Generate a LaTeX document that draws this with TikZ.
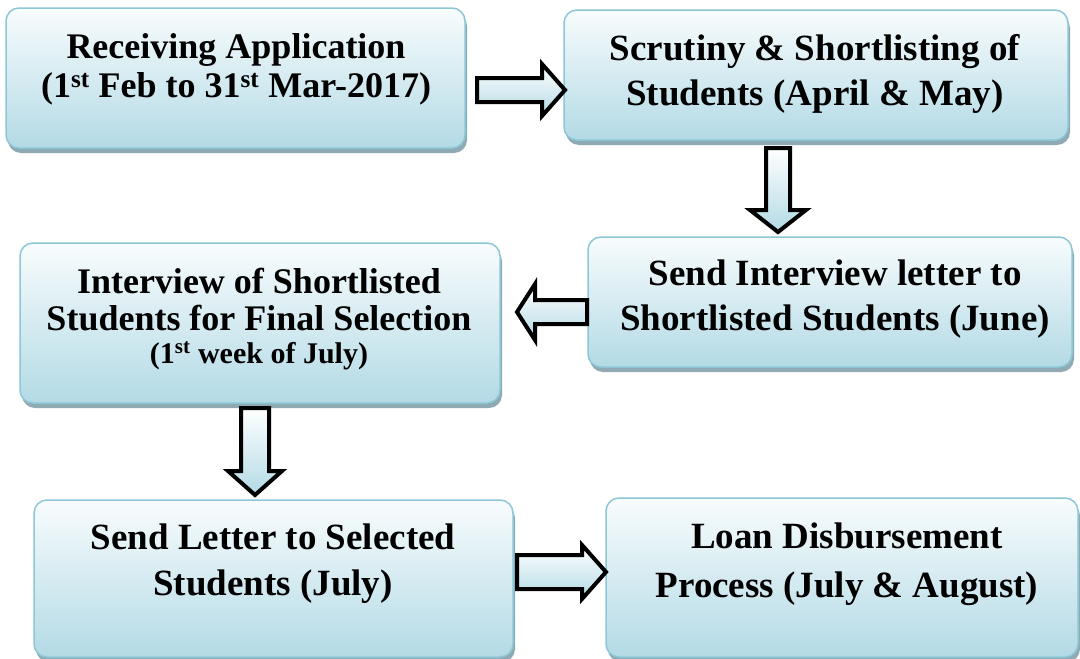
\documentclass[tikz,border=0pt]{standalone}
\usepackage{fontspec}
\setmainfont{Liberation Serif}
\usetikzlibrary{shadows}
\definecolor{boxtop}{HTML}{F8FCFD}
\definecolor{boxbot}{HTML}{B3DAE5}
\definecolor{boxline}{HTML}{8CC7D6}
\definecolor{shadowc}{HTML}{7D9CA8}
\tikzset{
  stage/.style={draw=boxline, line width=1.5pt, rounded corners=13pt,
    top color=boxtop, bottom color=boxbot, inner sep=0pt,
    drop shadow={shadow xshift=2pt, shadow yshift=-5pt, fill=shadowc, opacity=0.85}},
  stagetext/.style={font=\bfseries\fontsize{37}{45}\selectfont, align=center, anchor=base, inner sep=0pt},
  blockarrow/.style={draw=black, line width=4pt, top color=white, bottom color=boxbot, miter limit=10}
}
\begin{document}
\begin{tikzpicture}[x=1pt,y=-1pt]
\useasboundingbox[fill=white] (0,0) rectangle (1080,659);

% boxes
\node[stage, minimum width=459pt, minimum height=140pt] (b1) at (235.5,78) {};
\node[stage, minimum width=504pt, minimum height=130pt] (b2) at (816,75) {};
\node[stage, minimum width=484pt, minimum height=130pt] (b3) at (830,302) {};
\node[stage, minimum width=480pt, minimum height=160pt] (b4) at (260,323) {};
\node[stage, minimum width=479pt, minimum height=157pt] (b5) at (273.5,578.5) {};
\node[stage, minimum width=472pt, minimum height=159pt] (b6) at (842,577.5) {};

% texts (anchor base = baseline of the last line)
\node[stagetext, font=\bfseries\fontsize{36}{39}\selectfont] (t1) at (236,97)
  {Receiving Application\\(1\textsuperscript{st} Feb to 31\textsuperscript{st} Mar-2017)};
\node[stagetext] (t2) at (815,105) {Scrutiny \& Shortlisting of\\Students (April \& May)};
\node[stagetext] (t3) at (835,330) {Send Interview letter to\\Shortlisted Students (June)};
\node[stagetext, font=\bfseries\fontsize{36}{37}\selectfont] (t4) at (259,330)
  {Interview of Shortlisted\\Students for Final Selection};
\node[stagetext, font=\bfseries\fontsize{30}{33}\selectfont] (t4b) at (259,363)
  {(1\textsuperscript{st} week of July)};
\node[stagetext, font=\bfseries\fontsize{37}{46}\selectfont] (t5) at (273,595)
  {Send Letter to Selected\\Students (July)};
\node[stagetext, font=\bfseries\fontsize{37}{49}\selectfont] (t6) at (847,597)
  {Loan Disbursement\\Process (July \& August)};

% block arrows
\draw[blockarrow] (477,78) -- (542,78) -- (542,64) -- (565,90) -- (542,116) -- (542,102) -- (477,102) -- cycle;
\draw[blockarrow] (766,148) -- (790,148) -- (790,210) -- (806,210) -- (778,232) -- (750,210) -- (766,210) -- cycle;
\draw[blockarrow] (587,300) -- (535,300) -- (535,284) -- (517,312) -- (535,340) -- (535,324) -- (587,324) -- cycle;
\draw[blockarrow] (241,408) -- (269,408) -- (269,471) -- (282,471) -- (255,495) -- (228,471) -- (241,471) -- cycle;
\draw[blockarrow] (517,555) -- (582,555) -- (582,545) -- (606,572) -- (582,599) -- (582,589) -- (517,589) -- cycle;
\end{tikzpicture}
\end{document}
